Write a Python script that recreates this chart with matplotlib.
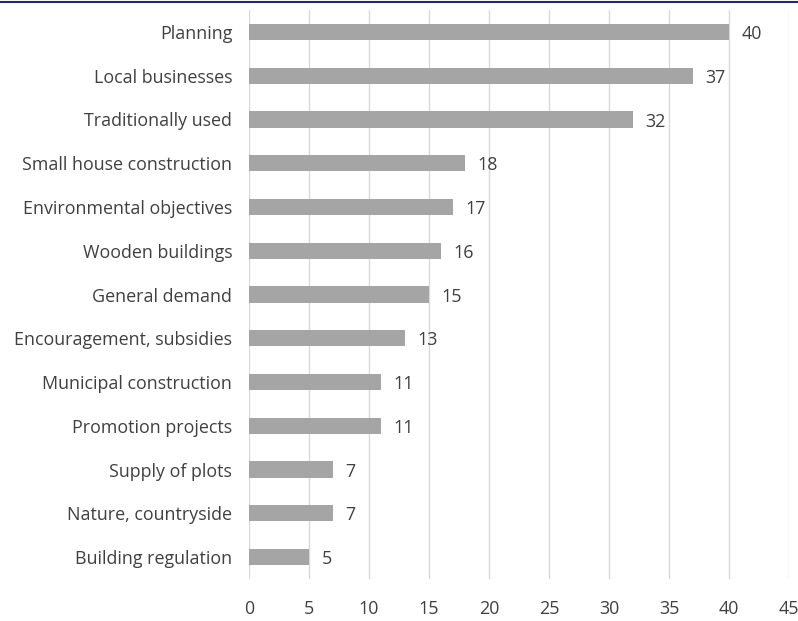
import matplotlib.pyplot as plt

categories = [
    "Planning",
    "Local businesses",
    "Traditionally used",
    "Small house construction",
    "Environmental objectives",
    "Wooden buildings",
    "General demand",
    "Encouragement, subsidies",
    "Municipal construction",
    "Promotion projects",
    "Supply of plots",
    "Nature, countryside",
    "Building regulation",
]
counts = [40, 37, 32, 18, 17, 16, 15, 13, 11, 11, 7, 7, 5]
xticks = [0, 5, 10, 15, 20, 25, 30, 35, 40, 45]

plt.rcParams['font.family'] = ['Open Sans', 'DejaVu Sans']
text_color = '#404040'
fs = 12.9

fig = plt.figure(figsize=(7.98, 6.21), dpi=100)
ax = fig.add_axes([0.312, 0.0676, 0.6767, 0.9163])

pos = list(range(len(categories)))
ax.barh(pos, counts, height=0.37, color='#a5a5a5', zorder=3)
for y, v in zip(pos, counts):
    ax.annotate(str(v), (v, y), xytext=(9, -1.5), textcoords='offset points',
                va='center', ha='left', fontsize=fs, color=text_color)

ax.set_yticks(pos)
ax.set_yticklabels(categories, fontsize=fs, color=text_color)
ax.set_ylim(len(categories) - 0.5, -0.5)
ax.set_xlim(0, 45)
ax.set_xticks(xticks)
ax.set_xticklabels([str(t) for t in xticks], fontsize=fs, color=text_color)
ax.tick_params(axis='both', length=0)
ax.tick_params(axis='y', pad=12)
ax.tick_params(axis='x', pad=15)
ax.grid(axis='x', color='#d9d9d9', linewidth=1, zorder=0)
for s in ax.spines.values():
    s.set_visible(False)

# thin rule across the top edge
fig.add_artist(plt.Line2D([0, 1], [0.9975, 0.9975], color='#1f2a6b', linewidth=1.5))

fig.savefig('out.png', dpi=100)
